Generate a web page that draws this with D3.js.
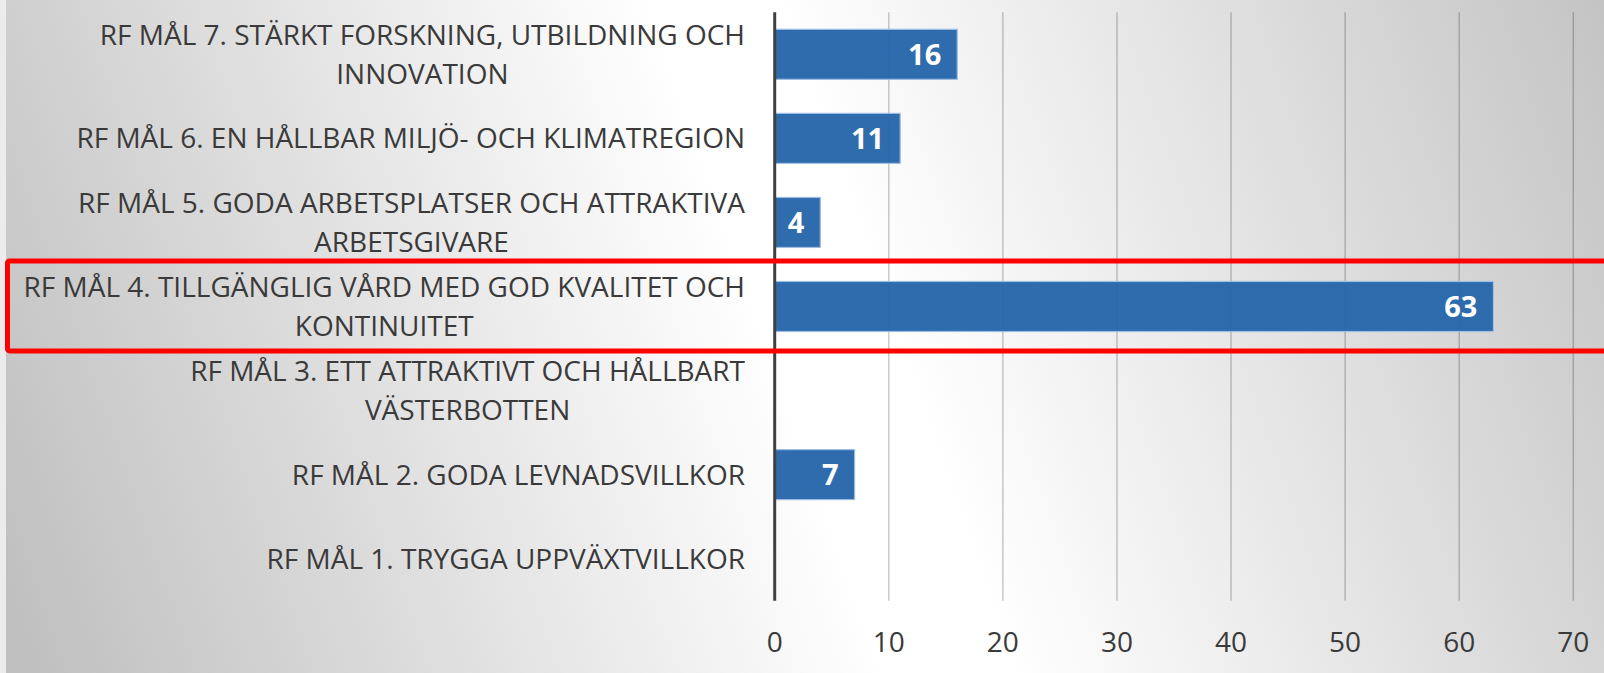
<!DOCTYPE html>
<html>
<head>
<meta charset="utf-8">
<script src="https://cdn.jsdelivr.net/npm/d3@7/dist/d3.min.js"></script>
<style>
  html, body { margin: 0; padding: 0; background: #ffffff; }
  svg { display: block; }
</style>
</head>
<body>
<svg id="chart" width="1604" height="673"></svg>
<script>
// Goal categories, listed top to bottom as drawn
const categories = [
  "RF MÅL 7. STÄRKT FORSKNING, UTBILDNING OCH\nINNOVATION",
  "RF MÅL 6. EN HÅLLBAR MILJÖ- OCH KLIMATREGION",
  "RF MÅL 5. GODA ARBETSPLATSER OCH ATTRAKTIVA\nARBETSGIVARE",
  "RF MÅL 4. TILLGÄNGLIG VÅRD MED GOD KVALITET OCH\nKONTINUITET",
  "RF MÅL 3. ETT ATTRAKTIVT OCH HÅLLBART\nVÄSTERBOTTEN",
  "RF MÅL 2. GODA LEVNADSVILLKOR",
  "RF MÅL 1. TRYGGA UPPVÄXTVILLKOR"
];
// Count per goal (null = no entries)
const counts = [16, 11, 4, 63, null, 7, null];
// Value axis ticks
const xTicks = [0, 10, 20, 30, 40, 50, 60, 70];
// Highlighted goal
const highlighted = "RF MÅL 4. TILLGÄNGLIG VÅRD MED GOD KVALITET OCH\nKONTINUITET";

const W = 1604, H = 673;
const plot = { left: 774.7, right: 1573.3, top: 12.3, bottom: 600.7 };
const labelRight = 745;
const fontFamily = "'Open Sans', 'DejaVu Sans', sans-serif";

const svg = d3.select("#chart");

// Background: diagonal grey-white-grey sweep
const defs = svg.append("defs");
const bg = defs.append("linearGradient")
  .attr("id", "bg").attr("gradientUnits", "userSpaceOnUse")
  .attr("x1", 0).attr("y1", 560).attr("x2", 1604).attr("y2", 0);
bg.append("stop").attr("offset", 0).attr("stop-color", "#c0c0c0");
bg.append("stop").attr("offset", 0.47).attr("stop-color", "#ffffff");
bg.append("stop").attr("offset", 0.54).attr("stop-color", "#ffffff");
bg.append("stop").attr("offset", 1).attr("stop-color", "#c4c4c4");

svg.append("rect").attr("width", W).attr("height", H).attr("fill", "url(#bg)");
svg.append("rect").attr("x", 0).attr("y", 0).attr("width", 6).attr("height", H).attr("fill", "#ececec");

const x = d3.scaleLinear().domain([0, 70]).range([plot.left, plot.right]);
const y = d3.scaleBand().domain(categories).range([plot.top, plot.bottom])
  .paddingInner(0.405).paddingOuter(0.2025);

// Vertical gridlines
svg.append("g").selectAll("line").data(xTicks.filter(d => d > 0)).join("line")
  .attr("x1", d => x(d)).attr("x2", d => x(d))
  .attr("y1", plot.top).attr("y2", plot.bottom)
  .attr("stroke", "#000").attr("stroke-opacity", 0.2).attr("stroke-width", 1.6);

// Bars
const rows = categories.map((c, i) => ({ cat: c, v: counts[i] }));
svg.append("g").selectAll("rect").data(rows.filter(d => d.v != null)).join("rect")
  .attr("x", x(0)).attr("y", d => y(d.cat))
  .attr("width", d => x(d.v) - x(0)).attr("height", y.bandwidth())
  .attr("fill", "#2766aa").attr("fill-opacity", 0.96)
  .attr("stroke", "#9dbde2").attr("stroke-width", 1.2);

// Value labels inside bar ends
svg.append("g").selectAll("text").data(rows.filter(d => d.v != null)).join("text")
  .attr("x", d => x(d.v) - 16)
  .attr("y", d => y(d.cat) + y.bandwidth() / 2 + 10.5)
  .attr("text-anchor", "end")
  .attr("font-family", fontFamily).attr("font-weight", 700).attr("font-size", 29)
  .attr("fill", "#ffffff")
  .text(d => d.v);

// Category axis line
svg.append("line")
  .attr("x1", plot.left).attr("x2", plot.left)
  .attr("y1", plot.top).attr("y2", plot.bottom)
  .attr("stroke", "#404040").attr("stroke-width", 3);

// Category labels: block right-aligned, lines centred within the block
const lineGap = 39.3;
const catG = svg.append("g");
categories.forEach(c => {
  const lines = c.split("\n");
  const cy = y(c) + y.bandwidth() / 2;
  const g = catG.append("g");
  const texts = lines.map(ln => g.append("text")
    .attr("font-family", fontFamily).attr("font-size", 28)
    .attr("fill", "#3a3a3a").attr("text-anchor", "middle")
    .text(ln));
  const widths = texts.map(t => t.node().getComputedTextLength());
  const blockW = d3.max(widths);
  const cx = labelRight - blockW / 2;
  const firstBase = cy + 10 - (lines.length - 1) * lineGap / 2;
  texts.forEach((t, i) => t.attr("x", cx).attr("y", firstBase + i * lineGap));
});

// Value axis tick labels
svg.append("g").selectAll("text").data(xTicks).join("text")
  .attr("x", d => x(d)).attr("y", 651.7)
  .attr("text-anchor", "middle")
  .attr("font-family", fontFamily).attr("font-size", 28)
  .attr("fill", "#3a3a3a")
  .text(d => d);

// Highlight frame around goal 4
const hy = y(highlighted);
svg.append("rect")
  .attr("x", 7.5).attr("y", hy - y.step() * 0.25 + 0.4)
  .attr("width", 1640).attr("height", 90)
  .attr("rx", 2)
  .attr("fill", "none").attr("stroke", "#ff0000").attr("stroke-width", 5);
</script>
</body>
</html>
